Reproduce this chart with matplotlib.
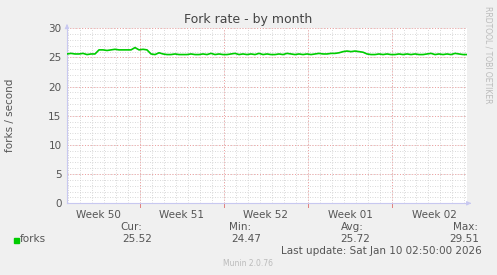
import matplotlib
matplotlib.use("Agg")
import matplotlib.pyplot as plt
from matplotlib.ticker import MultipleLocator

# data: forks/second sampled every 8 hours (day offsets from graph start)
step_days = 1 / 3
forks = [25.6, 25.7, 25.6, 25.6, 25.7, 25.5, 25.6, 25.6,
         26.3, 26.3, 26.2, 26.3, 26.4, 26.3, 26.3, 26.3, 26.3, 26.7, 26.3, 26.4, 26.3,
         25.6, 25.5, 25.8, 25.6, 25.5, 25.5, 25.6, 25.5, 25.5, 25.5, 25.6, 25.5, 25.5,
         25.6, 25.5, 25.7, 25.5, 25.6, 25.5, 25.5, 25.6, 25.7, 25.5, 25.6, 25.5, 25.6,
         25.5, 25.7, 25.5, 25.6, 25.5, 25.5, 25.6, 25.5, 25.7, 25.6, 25.5, 25.6, 25.5,
         25.6, 25.5, 25.6, 25.7, 25.6, 25.6, 25.7, 25.7,
         25.8, 26.0, 26.1, 26.0, 26.1, 26.0, 25.9,
         25.6, 25.5, 25.5, 25.6, 25.5, 25.6, 25.5, 25.5, 25.6, 25.5, 25.6, 25.5,
         25.6, 25.5, 25.5, 25.6, 25.7, 25.5, 25.6, 25.5, 25.6, 25.5, 25.7, 25.6, 25.5, 25.5]
days = [i * step_days for i in range(len(forks))]

week_bounds = [6.08, 13.08, 20.08, 27.08]
week_labels = ["Week 50", "Week 51", "Week 52", "Week 01", "Week 02"]
week_label_pos = [2.58, 9.58, 16.58, 23.58, 30.58]
x_max = 33.33
y_ticks = [0, 5, 10, 15, 20, 25, 30]

stats_labels = ["Cur:", "Min:", "Avg:", "Max:"]
stats_values = ["25.52", "24.47", "25.72", "29.51"]

W, H = 497, 275
fig = plt.figure(figsize=(W / 100, H / 100), dpi=100, facecolor="#F0F0F0")
ax = fig.add_axes([67 / W, (H - 203.3) / H, 400 / W, (203.3 - 28.3) / H])
ax.set_facecolor("white")
ax.set_xlim(0, x_max)
ax.set_ylim(0, 30)

# grids
for v in [d + 0.08 for d in range(34)]:
    if v <= x_max:
        ax.axvline(v, color="#CCCCCC", lw=0.6, ls=(0, (1, 2)), zorder=0)
for v in range(0, 31):
    ax.axhline(v, color="#CCCCCC", lw=0.6, ls=(0, (1, 2)), zorder=0)
for v in week_bounds:
    ax.axvline(v, color="#F0A0A0", lw=0.7, ls=(0, (1, 2)), zorder=1)
for v in y_ticks[1:]:
    ax.axhline(v, color="#F0A0A0", lw=0.7, ls=(0, (1, 2)), zorder=1)

ax.plot(days, forks, color="#00CC00", lw=1.2, zorder=3)

for s in ["top", "right"]:
    ax.spines[s].set_visible(False)
for s in ["left", "bottom"]:
    ax.spines[s].set_color("#C8C8F0")
    ax.spines[s].set_linewidth(0.8)

ax.set_yticks(y_ticks)
ax.set_yticklabels([str(v) for v in y_ticks])
ax.set_xticks(week_label_pos)
ax.set_xticklabels(week_labels)
ax.tick_params(axis="both", which="both", length=0, labelsize=7.5, labelcolor="#555555")
ax.tick_params(axis="x", pad=5)
ax.tick_params(axis="y", pad=4)
ax.minorticks_off()
for v in week_bounds:
    ax.plot([v, v], [0, -0.6], color="#E08080", lw=0.7, clip_on=False)

# arrows
ax.annotate("", xy=(0, 31.2), xytext=(0, 30), xycoords="data",
            arrowprops=dict(arrowstyle="-|>", color="#C8C8F0", lw=0.8, mutation_scale=6),
            annotation_clip=False)
ax.annotate("", xy=(x_max + 0.35, 0), xytext=(x_max, 0), xycoords="data",
            arrowprops=dict(arrowstyle="-|>", color="#C8C8F0", lw=0.8, mutation_scale=6),
            annotation_clip=False)

def px(x, y):
    return x / W, 1 - y / H

fig.text(*px(248, 19), "Fork rate - by month", ha="center", va="center",
         fontsize=9, color="#444444")
fig.text(*px(10, 115), "forks / second", rotation=90, ha="center", va="center",
         fontsize=7.5, color="#555555")
fig.text(*px(488, 55), "RRDTOOL / TOBI OETIKER", rotation=270, ha="center", va="center",
         fontsize=5.5, color="#BBBBBB")

# legend
fig.patches.append(plt.Rectangle(px(14, 243), 5 / W, 5 / H, transform=fig.transFigure,
                                 color="#00CC00", figure=fig))
fig.text(*px(20, 239), "forks", ha="left", va="center", fontsize=7.5, color="#555555")
label_right = [142, 251, 364, 478]
value_right = [152, 261, 370, 479]
for lab, val, lx, vx in zip(stats_labels, stats_values, label_right, value_right):
    fig.text(*px(lx, 227), lab, ha="right", va="center", fontsize=7.5, color="#555555")
    fig.text(*px(vx, 239), val, ha="right", va="center", fontsize=7.5, color="#555555")
fig.text(*px(482, 251), "Last update: Sat Jan 10 02:50:00 2026", ha="right", va="center",
         fontsize=7.5, color="#555555")
fig.text(*px(248, 263), "Munin 2.0.76", ha="center", va="center", fontsize=5.5, color="#BBBBBB")

fig.savefig("out.png", dpi=100, facecolor=fig.get_facecolor())
